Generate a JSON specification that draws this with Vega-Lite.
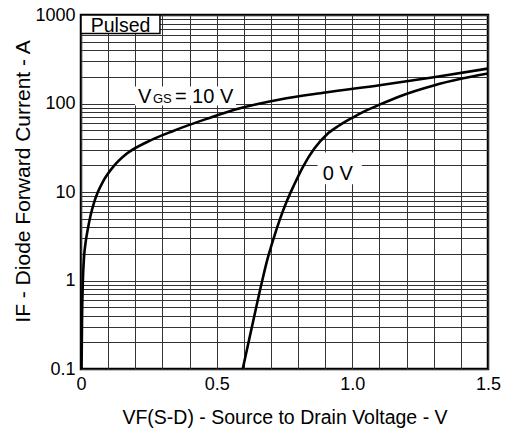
{
  "$schema": "https://vega.github.io/schema/vega-lite/v6.json",
  "width": 407,
  "height": 354,
  "autosize": {"type": "none"},
  "padding": {"left": 81, "top": 15, "right": 19, "bottom": 64},
  "background": "white",
  "config": {
    "view": {"stroke": "black", "strokeWidth": 2.5},
    "font": "Liberation Sans"
  },
  "datasets": {
    "curves": [
      {"series": "10 V", "V": 0.002, "I": 0.1},
      {"series": "10 V", "V": 0.004, "I": 0.4},
      {"series": "10 V", "V": 0.007, "I": 1.0},
      {"series": "10 V", "V": 0.011, "I": 1.8},
      {"series": "10 V", "V": 0.017, "I": 2.7},
      {"series": "10 V", "V": 0.025, "I": 3.8},
      {"series": "10 V", "V": 0.035, "I": 5.4},
      {"series": "10 V", "V": 0.047, "I": 7.4},
      {"series": "10 V", "V": 0.061, "I": 9.8},
      {"series": "10 V", "V": 0.082, "I": 13.3},
      {"series": "10 V", "V": 0.12, "I": 19.5},
      {"series": "10 V", "V": 0.168, "I": 27},
      {"series": "10 V", "V": 0.242, "I": 36.5},
      {"series": "10 V", "V": 0.34, "I": 49},
      {"series": "10 V", "V": 0.463, "I": 67},
      {"series": "10 V", "V": 0.572, "I": 86},
      {"series": "10 V", "V": 0.733, "I": 111},
      {"series": "10 V", "V": 0.9, "I": 133},
      {"series": "10 V", "V": 1.1, "I": 161},
      {"series": "10 V", "V": 1.3, "I": 198},
      {"series": "10 V", "V": 1.5, "I": 248},
      {"series": "0 V", "V": 0.596, "I": 0.1},
      {"series": "0 V", "V": 0.63, "I": 0.3},
      {"series": "0 V", "V": 0.668, "I": 1.0},
      {"series": "0 V", "V": 0.687, "I": 1.73},
      {"series": "0 V", "V": 0.71, "I": 3.0},
      {"series": "0 V", "V": 0.733, "I": 4.9},
      {"series": "0 V", "V": 0.758, "I": 7.8},
      {"series": "0 V", "V": 0.783, "I": 11.6},
      {"series": "0 V", "V": 0.819, "I": 19.5},
      {"series": "0 V", "V": 0.86, "I": 31},
      {"series": "0 V", "V": 0.906, "I": 44.7},
      {"series": "0 V", "V": 0.95, "I": 56},
      {"series": "0 V", "V": 1.0, "I": 69},
      {"series": "0 V", "V": 1.05, "I": 83},
      {"series": "0 V", "V": 1.1, "I": 97},
      {"series": "0 V", "V": 1.176, "I": 121},
      {"series": "0 V", "V": 1.3, "I": 160},
      {"series": "0 V", "V": 1.4, "I": 190},
      {"series": "0 V", "V": 1.5, "I": 218}
    ],
    "pulsedBox": [
      {"V": 0, "V2": 0.291, "I": 618, "I2": 1000}
    ],
    "labelBoxes": [
      {"V": 0.199, "V2": 0.571, "I": 94.9, "I2": 155.6},
      {"V": 0.872, "V2": 1.035, "I": 12.2, "I2": 27.9}
    ],
    "labels": [
      {"text": "Pulsed", "kind": "pulsed", "V": 0.036, "I": 639},
      {"text": "V", "kind": "main", "V": 0.21, "I": 102.6},
      {"text": "GS", "kind": "sub", "V": 0.265, "I": 102.6},
      {"text": "= 10 V", "kind": "main", "V": 0.346, "I": 102.6},
      {"text": "0 V", "kind": "main", "V": 0.891, "I": 13.8}
    ]
  },
  "encoding": {
    "x": {
      "field": "V",
      "type": "quantitative",
      "scale": {"domain": [0, 1.5], "nice": false, "zero": false},
      "axis": {
        "title": "VF(S-D) - Source to Drain Voltage - V",
        "titleFontSize": 19.5,
        "titleFontWeight": "normal",
        "titleColor": "black",
        "titleBaseline": "alphabetic",
        "titleY": 54,
        "values": [0, 0.1, 0.2, 0.3, 0.4, 0.5, 0.6, 0.7, 0.8, 0.9, 1.0, 1.1, 1.2, 1.3, 1.4, 1.5],
        "labelExpr": "datum.value == 0 ? '0' : datum.value == 0.5 ? '0.5' : datum.value == 1 ? '1.0' : datum.value == 1.5 ? '1.5' : ''",
        "labelFontSize": 18,
        "labelColor": "black",
        "labelFlush": false,
        "labelOverlap": false,
        "labelPadding": 6,
        "ticks": false,
        "tickSize": 0,
        "domain": false,
        "grid": true,
        "gridColor": "#333333",
        "gridWidth": 1,
        "gridOpacity": 1
      }
    },
    "y": {
      "field": "I",
      "type": "quantitative",
      "scale": {"type": "log", "domain": [0.1, 1000], "nice": false},
      "axis": {
        "title": "IF - Diode Forward Current - A",
        "titleFontSize": 21,
        "titleFontWeight": "normal",
        "titleColor": "black",
        "titleAngle": 270,
        "titleBaseline": "alphabetic",
        "titleAlign": "center",
        "titleX": -52,
        "titleY": 166,
        "values": [0.1, 0.2, 0.3, 0.4, 0.5, 0.6, 0.7, 0.8, 0.9, 1, 2, 3, 4, 5, 6, 7, 8, 9, 10, 20, 30, 40, 50, 60, 70, 80, 90, 100, 200, 300, 400, 500, 600, 700, 800, 900, 1000],
        "labelExpr": "datum.value == 1000 ? '1000' : datum.value == 100 ? '100' : datum.value == 10 ? '10' : datum.value == 1 ? '1' : datum.value == 0.1 ? '0.1' : ''",
        "labelFontSize": 18,
        "labelColor": "black",
        "labelOverlap": false,
        "labelPadding": 6,
        "ticks": false,
        "tickSize": 0,
        "domain": false,
        "grid": true,
        "gridColor": "#333333",
        "gridWidth": 1,
        "gridOpacity": 1
      }
    }
  },
  "layer": [
    {
      "data": {"name": "curves"},
      "mark": {"type": "line", "color": "black", "strokeWidth": 2.6, "interpolate": "monotone", "clip": true},
      "encoding": {
        "detail": {"field": "series", "type": "nominal"}
      }
    },
    {
      "data": {"name": "pulsedBox"},
      "mark": {"type": "rect", "fill": "white", "stroke": "black", "strokeWidth": 1.5},
      "encoding": {
        "x2": {"field": "V2"},
        "y2": {"field": "I2"}
      }
    },
    {
      "data": {"name": "labelBoxes"},
      "mark": {"type": "rect", "fill": "white"},
      "encoding": {
        "x2": {"field": "V2"},
        "y2": {"field": "I2"}
      }
    },
    {
      "data": {"name": "labels"},
      "transform": [{"filter": "datum.kind == 'main'"}],
      "mark": {"type": "text", "align": "left", "baseline": "alphabetic", "color": "black", "fontSize": 20},
      "encoding": {
        "text": {"field": "text", "type": "nominal"}
      }
    },
    {
      "data": {"name": "labels"},
      "transform": [{"filter": "datum.kind == 'pulsed'"}],
      "mark": {"type": "text", "align": "left", "baseline": "alphabetic", "color": "black", "fontSize": 19.5},
      "encoding": {
        "text": {"field": "text", "type": "nominal"}
      }
    },
    {
      "data": {"name": "labels"},
      "transform": [{"filter": "datum.kind == 'sub'"}],
      "mark": {"type": "text", "align": "left", "baseline": "alphabetic", "color": "black", "fontSize": 13},
      "encoding": {
        "text": {"field": "text", "type": "nominal"}
      }
    }
  ]
}
